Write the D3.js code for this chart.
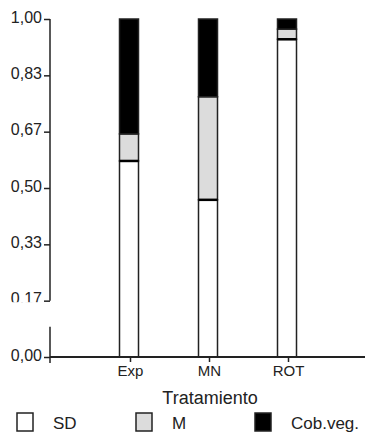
<!DOCTYPE html>
<html>
<head>
<meta charset="utf-8">
<script src="https://cdn.jsdelivr.net/npm/d3@7"></script>
<style>
  body { margin: 0; background: #fff; }
  svg { display: block; font-family: "Liberation Sans", Arial, sans-serif; }
</style>
</head>
<body>
<svg id="chart" width="367" height="435"></svg>
<script>
// data
const categories = ["Exp", "MN", "ROT"];
const sdValues = [0.58, 0.465, 0.94];
const mValues = [0.08, 0.305, 0.03];
const cobValues = [0.34, 0.23, 0.03];
const yTicks = [0, 1/6, 2/6, 3/6, 4/6, 5/6, 1];
const seriesNames = ["SD", "M", "Cob.veg."];
const seriesColors = ["#ffffff", "#dcdcdc", "#000000"];

const width = 367, height = 435;
const margin = { left: 50, top: 19, right: 2, bottom: 78 };
const svg = d3.select("#chart");

const rows = categories.map((c, i) => ({ cat: c, SD: sdValues[i], M: mValues[i], "Cob.veg.": cobValues[i] }));
const stacked = d3.stack().keys(seriesNames)(rows);

const x = d3.scalePoint().domain(categories).range([130, 288]);
const y = d3.scaleLinear().domain([0, 1]).range([height - margin.bottom, margin.top]);
const barW = 19;

// bars
const layers = svg.append("g").selectAll("g")
  .data(stacked)
  .join("g")
    .attr("fill", (d, i) => seriesColors[i]);

layers.selectAll("rect")
  .data(d => d)
  .join("rect")
    .attr("x", d => x(d.data.cat) - barW / 2 - 1)
    .attr("y", d => y(d[1]))
    .attr("width", barW)
    .attr("height", d => y(d[0]) - y(d[1]))
    .attr("stroke", "#222")
    .attr("stroke-width", 1.5);

// thick line on top of the SD part
svg.append("g").selectAll("line")
  .data(stacked[0])
  .join("line")
    .attr("x1", d => x(d.data.cat) - barW / 2 - 1)
    .attr("x2", d => x(d.data.cat) + barW / 2 - 1)
    .attr("y1", d => y(d[1]))
    .attr("y2", d => y(d[1]))
    .attr("stroke", "#000")
    .attr("stroke-width", 2.5);

// y axis
const yAxis = svg.append("g")
  .attr("transform", `translate(${margin.left},0)`)
  .call(d3.axisLeft(y).tickValues(yTicks).tickSize(6).tickPadding(2)
    .tickFormat(d => d.toFixed(2).replace(".", ",")));
yAxis.select(".domain").remove();
yAxis.selectAll("line").attr("stroke", "#222").attr("stroke-width", 1.5);
yAxis.selectAll("text")
  .attr("font-size", 16)
  .attr("fill", "#222")
  .attr("dy", "0.2em")
  .attr("font-family", "Liberation Sans, Arial, sans-serif");

// axis break: white gap covering part of the 0,17 label
svg.append("rect")
  .attr("x", 0).attr("y", y(1/6) + 1.5)
  .attr("width", margin.left + 4).attr("height", 24)
  .attr("fill", "#fff");

// broken y axis line
svg.append("line")
  .attr("x1", margin.left).attr("x2", margin.left)
  .attr("y1", y(1)).attr("y2", y(1/6))
  .attr("stroke", "#222").attr("stroke-width", 1.5);
svg.append("line")
  .attr("x1", margin.left).attr("x2", margin.left)
  .attr("y1", y(1/6) + 26).attr("y2", y(0) + 6)
  .attr("stroke", "#222").attr("stroke-width", 1.5);

// x axis
const xAxis = svg.append("g")
  .attr("transform", `translate(0,${y(0)})`)
  .call(d3.axisBottom(x).tickSize(5).tickPadding(3));
xAxis.select(".domain").remove();
xAxis.selectAll("line").attr("stroke", "#222").attr("stroke-width", 1.5);
xAxis.selectAll("text")
  .attr("font-size", 15)
  .attr("fill", "#222")
  .attr("font-family", "Liberation Sans, Arial, sans-serif");

svg.append("line")
  .attr("x1", margin.left).attr("x2", width - margin.right)
  .attr("y1", y(0)).attr("y2", y(0))
  .attr("stroke", "#222").attr("stroke-width", 2);

svg.append("text")
  .attr("x", x("MN") + 1)
  .attr("y", 404)
  .attr("text-anchor", "middle")
  .attr("font-size", 18)
  .attr("fill", "#222")
  .text("Tratamiento");

// legend
const legendX = [17, 136, 255];
const legend = svg.append("g").selectAll("g")
  .data(seriesNames)
  .join("g")
    .attr("transform", (d, i) => `translate(${legendX[i]},413)`);

legend.append("rect")
  .attr("width", 16)
  .attr("height", 18)
  .attr("fill", (d, i) => seriesColors[i])
  .attr("stroke", "#222")
  .attr("stroke-width", 1.5);

legend.append("text")
  .attr("x", 36)
  .attr("y", 16)
  .attr("font-size", 17)
  .attr("fill", "#222")
  .text(d => d);
</script>
</body>
</html>
